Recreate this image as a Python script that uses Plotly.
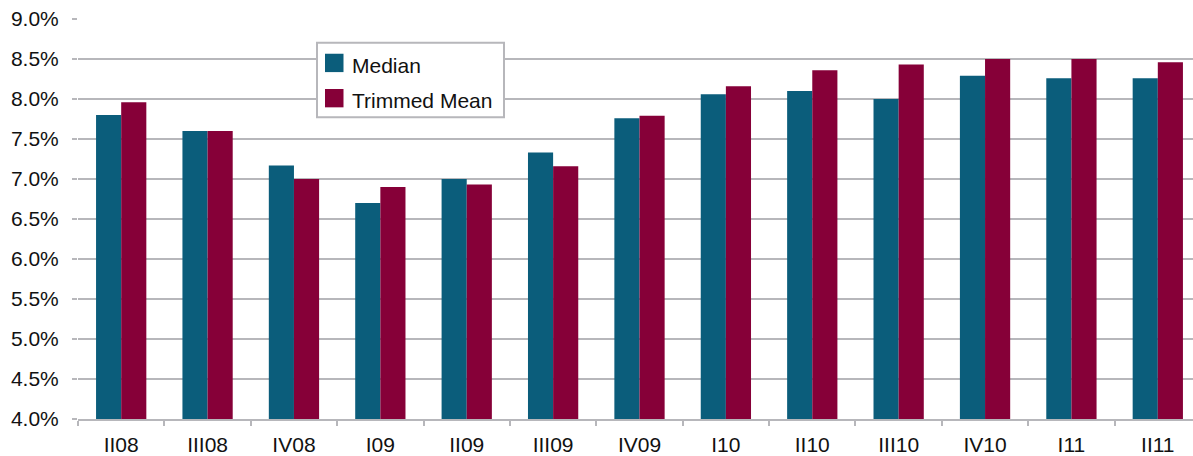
import plotly.graph_objects as go

quarters = ["II08", "III08", "IV08", "I09", "II09", "III09", "IV09",
            "I10", "II10", "III10", "IV10", "I11", "II11"]
median = [7.80, 7.60, 7.17, 6.70, 7.00, 7.33, 7.76, 8.06, 8.10, 8.00, 8.29, 8.26, 8.26]
trimmed_mean = [7.96, 7.60, 7.00, 6.90, 6.93, 7.16, 7.79, 8.16, 8.36, 8.43, 8.50, 8.50, 8.46]
series_names = ["Median", "Trimmed Mean"]

TEAL = "#0b5d7b"
MAROON = "#860038"
GRID = "#b7b7bb"
FONT = "Liberation Sans, Arial, sans-serif"
TEXT = "#111111"

W, H = 1193, 456
ML, MR, MT, MB = 78, 0, 19, 34
PW, PH = W - ML - MR, H - MT - MB


def px(x):
    return (x - ML) / PW


def py(y):
    return (H - MB - y) / PH


fig = go.Figure()
fig.add_trace(go.Bar(x=quarters, y=median, name=series_names[0],
                     marker=dict(color=TEAL, line=dict(width=0))))
fig.add_trace(go.Bar(x=quarters, y=trimmed_mean, name=series_names[1],
                     marker=dict(color=MAROON, line=dict(width=0))))

fig.update_layout(
    width=W, height=H,
    margin=dict(l=ML, r=MR, t=MT, b=MB),
    plot_bgcolor="white", paper_bgcolor="white",
    barmode="group", bargap=0.418, bargroupgap=0,
    font=dict(family=FONT, size=21, color=TEXT),
    showlegend=False,
)

fig.update_xaxes(
    type="category",
    range=[-0.5, 12.5 - (1201 - 1193) / 86.4],
    showline=True, linecolor=GRID, linewidth=1.5,
    ticks="outside", ticklen=5, tickcolor=GRID, tickwidth=1.5,
    tickson="boundaries",
    showgrid=False,
    ticklabelstandoff=6,
    tickfont=dict(family=FONT, size=21, color=TEXT),
)

fig.update_yaxes(
    range=[4.0, 9.0],
    dtick=0.5, tick0=4.0,
    tickformat=".1f", ticksuffix="%",
    showgrid=True, gridcolor=GRID, gridwidth=1.5,
    ticks="outside", ticklen=5, tickcolor=GRID, tickwidth=1.5,
    zeroline=False, showline=False,
    ticklabelstandoff=9,
    tickfont=dict(family=FONT, size=21, color=TEXT),
)

# legend box drawn in paper coordinates
fig.add_shape(type="rect", xref="paper", yref="paper",
              x0=px(317), x1=px(504), y0=py(118), y1=py(43),
              fillcolor="white", line=dict(color=GRID, width=2), layer="above")
for i, (name, color) in enumerate(zip(series_names, [TEAL, MAROON])):
    top = 54 + i * 35.5
    fig.add_shape(type="rect", xref="paper", yref="paper",
                  x0=px(325), x1=px(343.5), y0=py(top + 18.5), y1=py(top),
                  fillcolor=color, line=dict(width=0), layer="above")
    fig.add_annotation(xref="paper", yref="paper", x=px(350), y=py(top + 12),
                       text=name, showarrow=False, xanchor="left", yanchor="middle",
                       font=dict(family=FONT, size=21, color=TEXT))

fig.write_html("out.html")
